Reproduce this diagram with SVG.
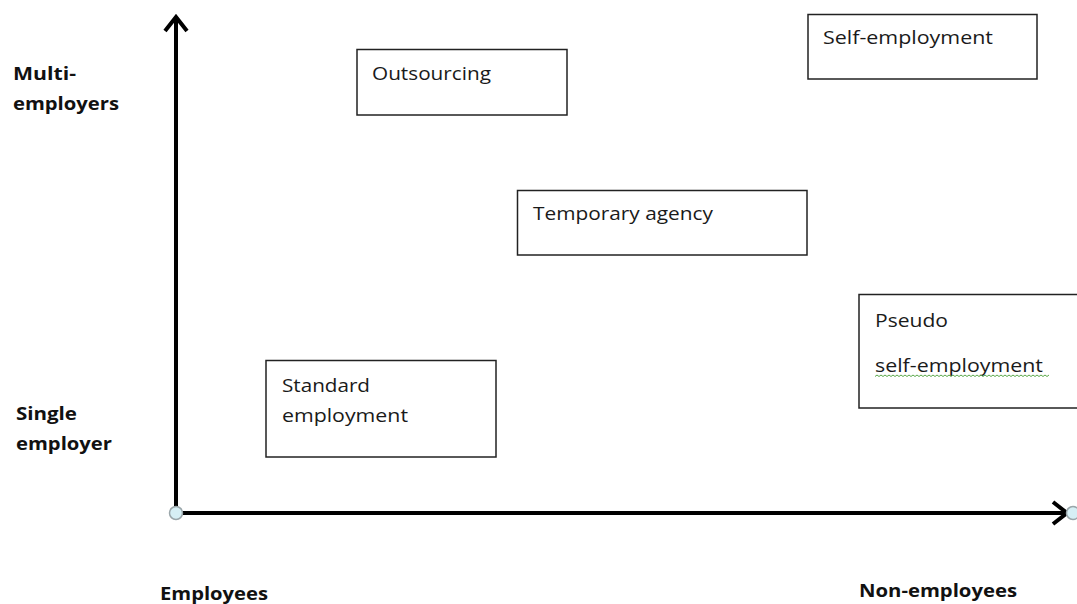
<svg xmlns="http://www.w3.org/2000/svg" width="1077" height="604" viewBox="0 0 1077 604">
  <style>
    .box { fill: #ffffff; stroke: #222222; stroke-width: 1.5; }
    .lbl { font-family: "Open Sans", "Liberation Sans", sans-serif; font-size: 18px; fill: #1a1a1a; }
    .axis-lbl { font-family: "Open Sans", "Liberation Sans", sans-serif; font-size: 18px; font-weight: bold; fill: #111111; }
    .axis { stroke: #000000; stroke-width: 4; fill: none; }
    .origin { fill: #d6eff5; stroke: #9aa6aa; stroke-width: 1.5; }
  </style>
  <defs>
    <marker id="chevron" viewBox="0 0 20 26" refX="17" refY="13" markerWidth="20" markerHeight="26" markerUnits="userSpaceOnUse" orient="auto">
      <path d="M3,2 L17,13 L3,24" fill="none" stroke="#000000" stroke-width="4" stroke-linejoin="miter"/>
    </marker>
  </defs>

  <rect width="1077" height="604" fill="#ffffff"/>

  <!-- axes -->
  <g id="connectors">
    <path class="axis" d="M176,513 L176,17" marker-end="url(#chevron)"/>
    <path class="axis" d="M176,513 L1067,513" marker-end="url(#chevron)"/>
    <circle class="origin" cx="176" cy="513" r="6.5"/>
    <circle class="origin" cx="1073" cy="513" r="6.5"/>
  </g>

  <!-- axis labels -->
  <g id="label-multi">
    <text class="axis-lbl" x="13" y="80" textLength="63" lengthAdjust="spacingAndGlyphs">Multi-</text>
    <text class="axis-lbl" x="13" y="110" textLength="106" lengthAdjust="spacingAndGlyphs">employers</text>
  </g>
  <g id="label-single">
    <text class="axis-lbl" x="16" y="420" textLength="61" lengthAdjust="spacingAndGlyphs">Single</text>
    <text class="axis-lbl" x="16" y="450" textLength="96" lengthAdjust="spacingAndGlyphs">employer</text>
  </g>
  <g id="label-employees">
    <text class="axis-lbl" x="160" y="600" textLength="108" lengthAdjust="spacingAndGlyphs">Employees</text>
  </g>
  <g id="label-non-employees">
    <text class="axis-lbl" x="859" y="597" textLength="158" lengthAdjust="spacingAndGlyphs">Non-employees</text>
  </g>

  <!-- employment forms -->
  <g id="outsourcing">
    <rect class="box" x="357" y="49.5" width="210" height="65.5"/>
    <text class="lbl" x="372" y="80" textLength="119" lengthAdjust="spacingAndGlyphs">Outsourcing</text>
  </g>
  <g id="self-employment">
    <rect class="box" x="808" y="14.5" width="229" height="64.5"/>
    <text class="lbl" x="823" y="44" textLength="170" lengthAdjust="spacingAndGlyphs">Self-employment</text>
  </g>
  <g id="temporary-agency">
    <rect class="box" x="517.5" y="190.5" width="289.5" height="64.5"/>
    <text class="lbl" x="533" y="220" textLength="180" lengthAdjust="spacingAndGlyphs">Temporary agency</text>
  </g>
  <g id="pseudo-self-employment">
    <rect class="box" x="859" y="294.5" width="230" height="113.5"/>
    <text class="lbl" x="875" y="327" textLength="73" lengthAdjust="spacingAndGlyphs">Pseudo</text>
    <text class="lbl" x="875" y="372" textLength="168" lengthAdjust="spacingAndGlyphs">self-employment</text>
    <path d="M875,376.5 l2,-1.5 l2,1.5 l2,-1.5 l2,1.5 l2,-1.5 l2,1.5 l2,-1.5 l2,1.5 l2,-1.5 l2,1.5 l2,-1.5 l2,1.5 l2,-1.5 l2,1.5 l2,-1.5 l2,1.5 l2,-1.5 l2,1.5 l2,-1.5 l2,1.5 l2,-1.5 l2,1.5 l2,-1.5 l2,1.5 l2,-1.5 l2,1.5 l2,-1.5 l2,1.5 l2,-1.5 l2,1.5 l2,-1.5 l2,1.5 l2,-1.5 l2,1.5 l2,-1.5 l2,1.5 l2,-1.5 l2,1.5 l2,-1.5 l2,1.5 l2,-1.5 l2,1.5 l2,-1.5 l2,1.5 l2,-1.5 l2,1.5 l2,-1.5 l2,1.5 l2,-1.5 l2,1.5 l2,-1.5 l2,1.5 l2,-1.5 l2,1.5 l2,-1.5 l2,1.5 l2,-1.5 l2,1.5 l2,-1.5 l2,1.5 l2,-1.5 l2,1.5 l2,-1.5 l2,1.5 l2,-1.5 l2,1.5 l2,-1.5 l2,1.5 l2,-1.5 l2,1.5 l2,-1.5 l2,1.5 l2,-1.5 l2,1.5 l2,-1.5 l2,1.5 l2,-1.5 l2,1.5 l2,-1.5 l2,1.5 l2,-1.5 l2,1.5 l2,-1.5 l2,1.5 l2,-1.5 l2,1.5 l2,-1.5" fill="none" stroke="#5aa84a" stroke-width="1"/>
  </g>
  <g id="standard-employment">
    <rect class="box" x="266" y="360.5" width="230" height="96.5"/>
    <text class="lbl" x="282" y="392" textLength="88" lengthAdjust="spacingAndGlyphs">Standard</text>
    <text class="lbl" x="282" y="422" textLength="126" lengthAdjust="spacingAndGlyphs">employment</text>
  </g>
</svg>
